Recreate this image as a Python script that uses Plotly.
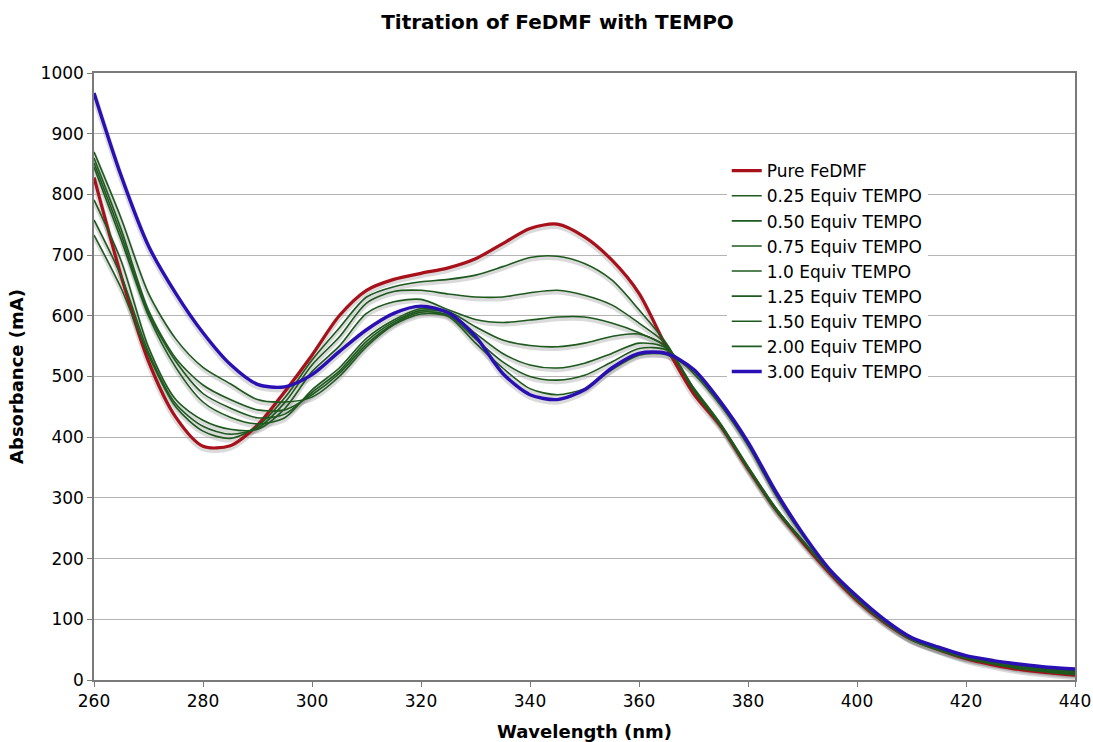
import plotly.graph_objects as go

wavelength = [260, 265, 270, 275, 280, 285, 290, 295, 300, 305, 310, 315, 320, 325, 330,
              335, 340, 345, 350, 355, 360, 365, 370, 375, 380, 385, 390, 395, 400, 405,
              410, 415, 420, 425, 430, 435, 440]

pure_fedmf = [828, 665, 525, 433, 385, 386, 420, 475, 535, 600, 642, 660, 670, 679, 694,
              719, 744, 751, 730, 692, 637, 549, 472, 418, 348, 282, 227, 176, 131, 95,
              67, 50, 35, 25, 17, 12, 8]
equiv_025 = [733, 645, 535, 450, 410, 398, 418, 465, 527, 580, 631, 648, 656, 660, 667,
             681, 696, 698, 686, 659, 610, 555, 478, 418, 348, 281, 228, 177, 132, 95,
             66, 49, 35, 26, 18, 13, 9]
equiv_050 = [758, 665, 540, 455, 418, 405, 415, 457, 519, 565, 621, 640, 642, 636, 631,
             631, 638, 642, 634, 618, 588, 553, 477, 419, 349, 283, 229, 178, 133, 96,
             67, 50, 36, 27, 19, 14, 10]
equiv_075 = [791, 690, 548, 462, 428, 413, 413, 447, 508, 550, 604, 623, 627, 610, 594,
             589, 593, 598, 598, 588, 572, 549, 478, 420, 350, 284, 230, 179, 134, 96,
             67, 50, 37, 28, 20, 15, 11]
equiv_100 = [845, 725, 600, 515, 458, 433, 422, 432, 478, 514, 563, 593, 612, 607, 582,
             560, 551, 549, 555, 566, 570, 549, 480, 420, 350, 283, 229, 178, 133, 96,
             67, 50, 37, 28, 21, 16, 12]
equiv_125 = [852, 733, 604, 525, 472, 448, 432, 438, 474, 509, 558, 590, 609, 605, 571,
             538, 519, 514, 522, 538, 555, 547, 482, 422, 352, 285, 230, 179, 134, 97,
             68, 51, 38, 29, 22, 17, 13]
equiv_150 = [860, 742, 609, 530, 486, 462, 445, 445, 470, 505, 553, 587, 606, 601, 562,
             524, 500, 494, 502, 524, 546, 544, 505, 452, 386, 306, 238, 180, 136, 98,
             69, 52, 39, 30, 23, 18, 14]
equiv_200 = [870, 760, 637, 562, 515, 488, 462, 458, 466, 500, 549, 585, 603, 599, 555,
             514, 480, 470, 480, 511, 535, 536, 508, 455, 389, 309, 240, 181, 137, 99,
             70, 53, 39, 31, 24, 19, 15]
equiv_300 = [967, 830, 715, 637, 572, 520, 487, 483, 503, 541, 577, 604, 616, 605, 566,
             505, 470, 462, 478, 514, 538, 538, 512, 458, 392, 312, 242, 182, 138, 100,
             70, 54, 40, 32, 26, 21, 18]

series_names = ["Pure FeDMF", "0.25 Equiv TEMPO", "0.50 Equiv TEMPO", "0.75 Equiv TEMPO",
                "1.0 Equiv TEMPO", "1.25 Equiv TEMPO", "1.50 Equiv TEMPO",
                "2.00 Equiv TEMPO", "3.00 Equiv TEMPO"]
series_values = [pure_fedmf, equiv_025, equiv_050, equiv_075, equiv_100, equiv_125,
                 equiv_150, equiv_200, equiv_300]

RED = "#A8101A"
GREEN = "#1E5A1E"
BLUE = "#2A0FB4"
colors = [RED] + [GREEN] * 7 + [BLUE]
widths = [3.2] + [1.6] * 7 + [3.4]

FONT = "DejaVu Sans"
fig = go.Figure()

# soft drop shadows (same data, drawn first)
for vals, w in zip(series_values, widths):
    fig.add_trace(go.Scatter(
        x=wavelength, y=[v - 3.5 for v in vals], mode="lines",
        line=dict(color="rgba(150,150,150,0.35)", width=w + 2.5, shape="spline", smoothing=0.8),
        hoverinfo="skip", showlegend=False))

for name, vals, c, w in zip(series_names, series_values, colors, widths):
    fig.add_trace(go.Scatter(
        x=wavelength, y=vals, mode="lines", name=name,
        line=dict(color=c, width=w, shape="spline", smoothing=0.8)))

fig.update_layout(
    width=1093, height=742,
    margin=dict(l=94, r=18, t=73, b=62, autoexpand=False),
    paper_bgcolor="white", plot_bgcolor="white",
    font=dict(family=FONT, size=17, color="black"),
    title=dict(text="<b>Titration of FeDMF with TEMPO</b>", x=0.4725, xref="paper",
               xanchor="center", y=0.970, yref="container", yanchor="middle",
               font=dict(family=FONT, size=20)),
    legend=dict(x=0.645, y=0.868, xanchor="left", yanchor="top",
                bgcolor="white", borderwidth=0, tracegroupgap=0,
                font=dict(family=FONT, size=17), itemwidth=30),
    showlegend=True,
)
fig.update_xaxes(range=[260, 440], tickvals=[260, 280, 300, 320, 340, 360, 380, 400, 420, 440],
                 showgrid=False, showline=True, linecolor="#7a7a7a", linewidth=1.5,
                 mirror=True, ticks="outside", ticklen=5, tickcolor="#7a7a7a",
                 tickfont=dict(family=FONT, size=17), automargin=False,
                 title=dict(text="<b>Wavelength (nm)</b>", font=dict(family=FONT, size=18),
                            standoff=22),
                 zeroline=False)
fig.update_yaxes(range=[0, 1000], dtick=100, showgrid=True, gridcolor="#b4b4b4", gridwidth=1.2,
                 showline=True, linecolor="#7a7a7a", linewidth=1.5, mirror=True,
                 ticks="outside", ticklen=5, tickcolor="#7a7a7a",
                 tickfont=dict(family=FONT, size=17), automargin=False,
                 title=dict(text="<b>Absorbance (mA)</b>", font=dict(family=FONT, size=18),
                            standoff=12),
                 zeroline=False)

fig.write_html("out.html")
